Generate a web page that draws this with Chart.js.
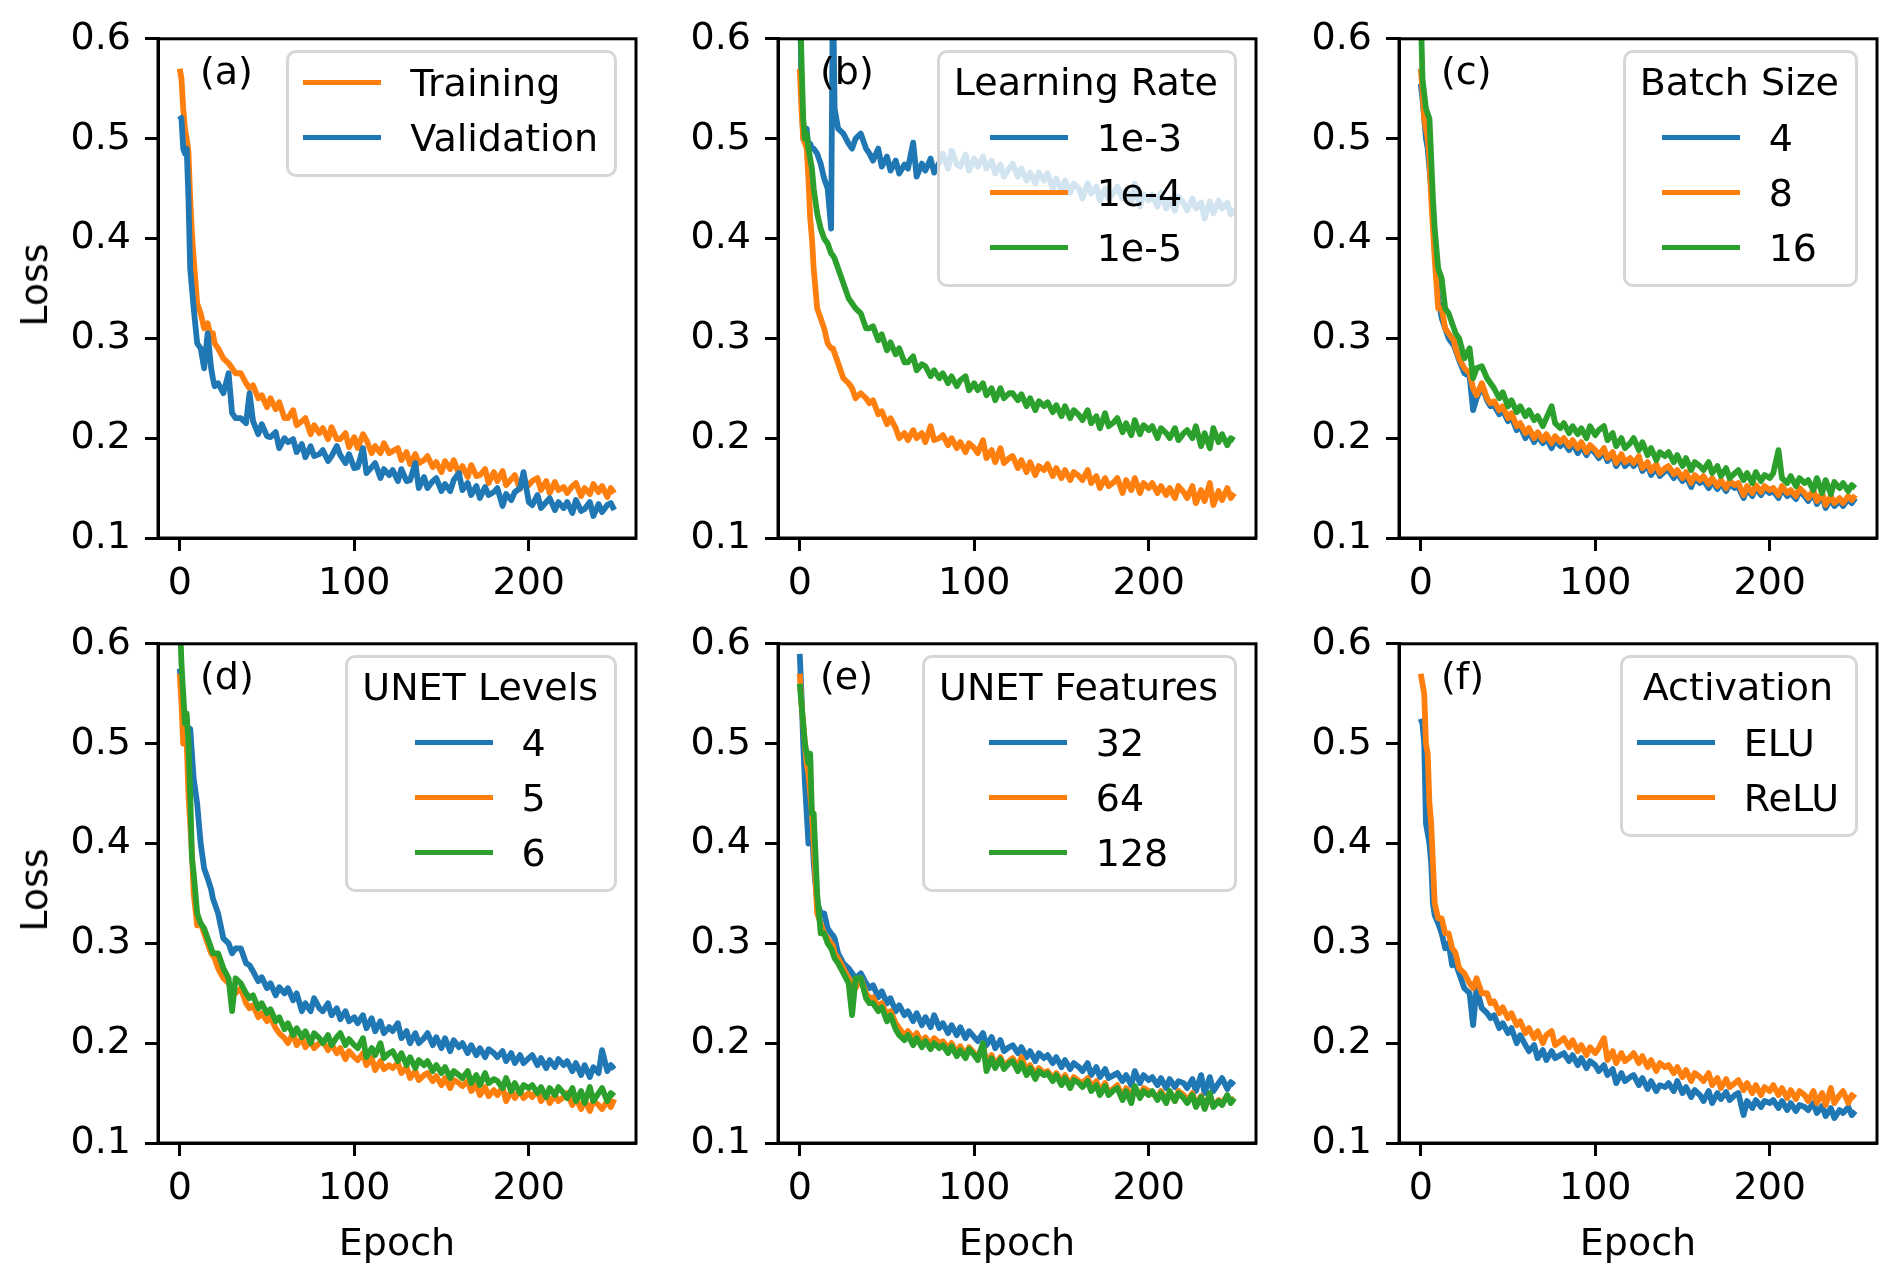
<!DOCTYPE html>
<html>
<head>
<meta charset="utf-8">
<script src="https://cdn.jsdelivr.net/npm/chart.js@4.4.1/dist/chart.umd.min.js"></script>
<style>
  body { margin: 0; background: #fff; }
  #fig { position: relative; width: 1892px; height: 1279px; overflow: hidden;
         font-family: "DejaVu Sans", sans-serif; color: #000; }
  #fig canvas { position: absolute; }
  .legend { position: absolute; box-sizing: border-box; display: flex; flex-direction: column; align-items: center;
            border: 3px solid rgba(204,204,204,0.8); border-radius: 10px; background: rgba(255,255,255,0.8);
            padding: 2px 16px 9px 14px; font-size: 38px; }
  .legend .title { height: 55px; line-height: 55px; white-space: nowrap; }
  .legend .entries { display: flex; flex-direction: column; }
  .legend .row { height: 55px; display: flex; align-items: center; white-space: nowrap; }
  .legend .row i { display: block; width: 78px; height: 5.6px; margin-right: 29px; }
  .tag { position: absolute; font-size: 38px; line-height: 38px; }
  .axlab { position: absolute; font-size: 38px; line-height: 44px; white-space: nowrap; }
</style>
</head>
<body>
<div id="fig"></div>
<script>
// --- data (loss per epoch) ---
const epochs = [0, 1, 2, 3, 4, 5, 6, 7, 8,
  10, 12, 14, 16, 18, 19, 20, 22,
  25, 28, 30, 32, 35, 38, 40,
  42, 45, 47, 50, 52, 55, 57, 60,
  62, 65, 67, 70, 72, 75, 77, 80,
  82, 85, 87, 90, 92, 95, 97, 100,
  102, 105, 107, 110, 112, 115, 117, 120,
  122, 125, 127, 130, 132, 135, 137, 140,
  142, 145, 147, 150, 152, 155, 157, 160,
  162, 165, 167, 170, 172, 175, 177, 180,
  182, 185, 187, 190, 192, 195, 197, 200,
  202, 205, 207, 210, 212, 215, 217, 220,
  222, 225, 227, 230, 232, 235, 237, 240,
  242, 245, 247, 249];

const xTicks = [0, 100, 200];
const yTicks = [0.1, 0.2, 0.3, 0.4, 0.5, 0.6];

// (a)
const trainA = [0.57, 0.56, 0.53, 0.51, 0.50, 0.487, 0.44, 0.405, 0.38,
  0.335, 0.325, 0.31, 0.315, 0.30, 0.305, 0.295, 0.29,
  0.28, 0.275, 0.27, 0.265, 0.265, 0.255, 0.25,
  0.253, 0.240, 0.243, 0.231, 0.240, 0.229, 0.236, 0.220,
  0.220, 0.228, 0.213, 0.217, 0.220, 0.204, 0.213, 0.205,
  0.210, 0.199, 0.211, 0.199, 0.199, 0.205, 0.191, 0.201,
  0.190, 0.204, 0.198, 0.185, 0.192, 0.185, 0.195, 0.185,
  0.187, 0.190, 0.178, 0.186, 0.174, 0.184, 0.175, 0.178,
  0.182, 0.171, 0.176, 0.166, 0.177, 0.169, 0.178, 0.164,
  0.172, 0.161, 0.173, 0.162, 0.163, 0.169, 0.155, 0.166,
  0.157, 0.167, 0.153, 0.159, 0.163, 0.149, 0.159, 0.153,
  0.157, 0.160, 0.148, 0.157, 0.145, 0.156, 0.148, 0.151,
  0.145, 0.152, 0.155, 0.142, 0.150, 0.144, 0.154, 0.146,
  0.152, 0.141, 0.150, 0.145];
const validA = [0.523, 0.52, 0.49, 0.485, 0.49, 0.44, 0.37, 0.35, 0.33,
  0.295, 0.29, 0.27, 0.305, 0.27, 0.26, 0.252, 0.255,
  0.245, 0.265, 0.225, 0.22, 0.22, 0.215, 0.245,
  0.217, 0.204, 0.214, 0.202, 0.201, 0.206, 0.190, 0.200,
  0.196, 0.199, 0.186, 0.194, 0.181, 0.192, 0.182, 0.184,
  0.188, 0.177, 0.182, 0.192, 0.183, 0.175, 0.184, 0.170,
  0.171, 0.190, 0.165, 0.171, 0.175, 0.160, 0.169, 0.163,
  0.168, 0.157, 0.169, 0.157, 0.158, 0.175, 0.150, 0.161,
  0.150, 0.157, 0.160, 0.147, 0.154, 0.147, 0.158, 0.165,
  0.148, 0.155, 0.143, 0.152, 0.140, 0.151, 0.143, 0.146,
  0.150, 0.132, 0.144, 0.138, 0.146, 0.150, 0.166, 0.136,
  0.133, 0.143, 0.130, 0.136, 0.140, 0.128, 0.136, 0.130,
  0.136, 0.125, 0.138, 0.127, 0.129, 0.136, 0.122, 0.134,
  0.126, 0.133, 0.135, 0.128];

// (b) learning rate
const lr1e3 = [0.66, 0.55, 0.50, 0.505, 0.51, 0.49, 0.495, 0.49, 0.49,
  0.485, 0.475, 0.46, 0.45, 0.41, 0.66, 0.53, 0.51,
  0.505, 0.495, 0.49, 0.5, 0.505, 0.49, 0.485,
  0.478, 0.49, 0.472, 0.482, 0.468, 0.478, 0.465, 0.474,
  0.47, 0.496, 0.462, 0.475, 0.468, 0.48, 0.466, 0.476,
  0.485, 0.47, 0.488, 0.474, 0.472, 0.484, 0.468, 0.48,
  0.472, 0.482, 0.47, 0.478, 0.465, 0.474, 0.462, 0.47,
  0.475, 0.462, 0.47, 0.458, 0.466, 0.455, 0.466, 0.458,
  0.465, 0.45, 0.46, 0.448, 0.458, 0.446, 0.455, 0.45,
  0.44, 0.455, 0.445, 0.452, 0.438, 0.45, 0.44, 0.446,
  0.452, 0.44, 0.448, 0.435, 0.455, 0.432, 0.444, 0.438,
  0.444, 0.432, 0.446, 0.43, 0.44, 0.428, 0.442, 0.435,
  0.428, 0.44, 0.43, 0.436, 0.42, 0.437, 0.425, 0.438,
  0.43, 0.436, 0.424, 0.43];
const lr1e4 = [0.57, 0.53, 0.50, 0.495, 0.49, 0.46, 0.42, 0.40, 0.37,
  0.33, 0.32, 0.31, 0.295, 0.29, 0.29, 0.285, 0.275,
  0.26, 0.255, 0.25, 0.24, 0.245, 0.24, 0.235,
  0.238, 0.224, 0.227, 0.214, 0.22, 0.21, 0.2, 0.205,
  0.198, 0.208, 0.2, 0.205, 0.196, 0.212, 0.198, 0.2,
  0.203, 0.193, 0.2, 0.19, 0.196, 0.186, 0.195, 0.19,
  0.185, 0.198, 0.18, 0.188, 0.176, 0.19, 0.175, 0.18,
  0.182, 0.17, 0.178, 0.166, 0.176, 0.163, 0.172, 0.168,
  0.174, 0.162, 0.17, 0.16, 0.168, 0.158, 0.166, 0.162,
  0.158, 0.168, 0.155, 0.162, 0.15, 0.16, 0.152, 0.156,
  0.16, 0.145, 0.158, 0.148, 0.16, 0.145, 0.155, 0.15,
  0.155, 0.145, 0.152, 0.143, 0.15, 0.14, 0.152, 0.146,
  0.14, 0.152, 0.135, 0.148, 0.137, 0.155, 0.133, 0.147,
  0.138, 0.15, 0.14, 0.145];
const lr1e5 = [0.66, 0.58, 0.52, 0.50, 0.505, 0.49, 0.48, 0.47, 0.45,
  0.425, 0.41, 0.40, 0.395, 0.385, 0.383, 0.38, 0.37,
  0.355, 0.34, 0.335, 0.33, 0.325, 0.31, 0.31,
  0.312, 0.298, 0.304, 0.288, 0.296, 0.284, 0.29, 0.276,
  0.276, 0.282, 0.268, 0.274, 0.272, 0.262, 0.268, 0.26,
  0.265, 0.255, 0.262, 0.252, 0.258, 0.262, 0.248, 0.255,
  0.248, 0.255, 0.243, 0.25, 0.238, 0.25, 0.24, 0.245,
  0.245, 0.238, 0.244, 0.232, 0.24, 0.228, 0.237, 0.232,
  0.236, 0.226, 0.233, 0.222, 0.232, 0.22, 0.228, 0.223,
  0.218, 0.228, 0.215, 0.222, 0.21, 0.225, 0.212, 0.216,
  0.22, 0.206, 0.215, 0.203, 0.218, 0.204, 0.213, 0.208,
  0.212, 0.2, 0.21, 0.205, 0.2, 0.21, 0.198, 0.205,
  0.208, 0.2, 0.212, 0.192, 0.205, 0.19, 0.21, 0.196,
  0.204, 0.193, 0.2, 0.198];

// (c) batch size
const bs4 = [0.555, 0.54, 0.52, 0.50, 0.49, 0.47, 0.45, 0.43, 0.39,
  0.34, 0.32, 0.31, 0.30, 0.295, 0.293, 0.288, 0.278,
  0.265, 0.262, 0.228, 0.24, 0.252, 0.238, 0.232,
  0.233, 0.224, 0.228, 0.217, 0.221, 0.208, 0.212, 0.2,
  0.207, 0.196, 0.202, 0.195, 0.2, 0.19, 0.198, 0.192,
  0.196, 0.188, 0.195, 0.185, 0.192, 0.183, 0.19, 0.185,
  0.18, 0.186, 0.177, 0.183, 0.172, 0.18, 0.172, 0.177,
  0.172, 0.178, 0.167, 0.173, 0.163, 0.17, 0.162, 0.167,
  0.168, 0.16, 0.165, 0.157, 0.162, 0.151, 0.16, 0.155,
  0.158, 0.15, 0.157, 0.149, 0.155, 0.147, 0.154, 0.15,
  0.151, 0.14, 0.149, 0.142, 0.15, 0.143, 0.149, 0.145,
  0.147, 0.14, 0.149, 0.142, 0.145, 0.139, 0.147, 0.142,
  0.137, 0.145, 0.134, 0.142, 0.13, 0.139, 0.132, 0.137,
  0.132, 0.139, 0.135, 0.14];
const bs8 = [0.57, 0.55, 0.52, 0.51, 0.50, 0.48, 0.44, 0.41, 0.38,
  0.33, 0.33, 0.31, 0.305, 0.30, 0.298, 0.29, 0.28,
  0.27, 0.265, 0.25, 0.243, 0.255, 0.24, 0.235,
  0.237, 0.228, 0.232, 0.22, 0.225, 0.212, 0.215, 0.205,
  0.21, 0.2, 0.206, 0.198, 0.204, 0.195, 0.202, 0.196,
  0.2, 0.192, 0.198, 0.19, 0.196, 0.186, 0.193, 0.188,
  0.183, 0.19, 0.18, 0.186, 0.175, 0.184, 0.176, 0.18,
  0.175, 0.182, 0.17, 0.176, 0.167, 0.174, 0.165, 0.17,
  0.172, 0.164, 0.168, 0.16, 0.166, 0.155, 0.163, 0.158,
  0.162, 0.154, 0.16, 0.152, 0.158, 0.15, 0.157, 0.153,
  0.155, 0.143, 0.152, 0.145, 0.153, 0.146, 0.152, 0.148,
  0.15, 0.143, 0.152, 0.145, 0.148, 0.142, 0.15, 0.145,
  0.14, 0.148, 0.137, 0.145, 0.133, 0.142, 0.135, 0.14,
  0.135, 0.142, 0.138, 0.143];
const bs16 = [0.63, 0.56, 0.545, 0.53, 0.525, 0.52, 0.48, 0.44, 0.41,
  0.37, 0.36, 0.33, 0.325, 0.315, 0.31, 0.305, 0.30,
  0.28, 0.29, 0.26, 0.27, 0.272, 0.26, 0.255,
  0.25, 0.24, 0.246, 0.232, 0.238, 0.226, 0.232, 0.222,
  0.228, 0.218, 0.222, 0.212, 0.22, 0.232, 0.215, 0.21,
  0.215, 0.205, 0.212, 0.204, 0.21, 0.2, 0.212, 0.203,
  0.208, 0.212, 0.198, 0.205, 0.192, 0.2, 0.19, 0.195,
  0.2, 0.188, 0.196, 0.183, 0.19, 0.178, 0.186, 0.182,
  0.186, 0.176, 0.183, 0.172, 0.18, 0.168, 0.176, 0.172,
  0.168, 0.176, 0.165, 0.172, 0.162, 0.17, 0.16, 0.165,
  0.168, 0.158, 0.165, 0.155, 0.166, 0.157, 0.163, 0.16,
  0.165, 0.188, 0.16, 0.155, 0.162, 0.152, 0.16, 0.155,
  0.158, 0.148, 0.16, 0.145, 0.158, 0.144, 0.156, 0.15,
  0.155, 0.147, 0.153, 0.15];

// (d) unet levels
const lv4 = [0.575, 0.56, 0.54, 0.52, 0.515, 0.51, 0.515, 0.49, 0.465,
  0.44, 0.40, 0.375, 0.365, 0.354, 0.345, 0.34, 0.33,
  0.305, 0.30, 0.29, 0.295, 0.295, 0.28, 0.278,
  0.272, 0.262, 0.266, 0.255, 0.26, 0.248, 0.256, 0.25,
  0.255, 0.243, 0.25, 0.232, 0.24, 0.232, 0.245, 0.235,
  0.232, 0.24, 0.228, 0.235, 0.224, 0.232, 0.222, 0.226,
  0.22, 0.228, 0.215, 0.225, 0.212, 0.222, 0.21, 0.216,
  0.212, 0.22, 0.205, 0.212, 0.2, 0.21, 0.2, 0.205,
  0.21, 0.198, 0.206, 0.195, 0.205, 0.192, 0.203, 0.196,
  0.2, 0.19, 0.198, 0.188, 0.195, 0.186, 0.194, 0.19,
  0.186, 0.192, 0.182, 0.19, 0.18, 0.188, 0.18, 0.185,
  0.188, 0.178, 0.185, 0.175, 0.183, 0.176, 0.184, 0.178,
  0.182, 0.172, 0.18, 0.168, 0.178, 0.166, 0.176, 0.17,
  0.193, 0.172, 0.178, 0.174];
const lv5 = [0.57, 0.54, 0.50, 0.50, 0.50, 0.45, 0.42, 0.39, 0.35,
  0.318, 0.32, 0.31, 0.30, 0.29, 0.288, 0.285, 0.275,
  0.265, 0.26, 0.255, 0.25, 0.255, 0.24, 0.235,
  0.238, 0.226, 0.23, 0.222, 0.226, 0.215, 0.21, 0.205,
  0.2, 0.21, 0.198, 0.205, 0.196, 0.202, 0.195, 0.2,
  0.202, 0.193, 0.199, 0.19, 0.195, 0.184, 0.192, 0.186,
  0.183, 0.19, 0.178, 0.185, 0.173, 0.182, 0.174, 0.178,
  0.175, 0.18, 0.17, 0.176, 0.165, 0.172, 0.163, 0.168,
  0.17, 0.162, 0.167, 0.158, 0.165, 0.155, 0.163, 0.16,
  0.157, 0.162, 0.152, 0.158, 0.148, 0.156, 0.147, 0.153,
  0.148, 0.156, 0.142, 0.152, 0.145, 0.153, 0.145, 0.15,
  0.146, 0.153, 0.142, 0.15, 0.14, 0.148, 0.142, 0.146,
  0.15, 0.138, 0.145, 0.134, 0.143, 0.132, 0.142, 0.138,
  0.134, 0.142, 0.136, 0.144];
const lv6 = [0.63, 0.58, 0.55, 0.52, 0.53, 0.50, 0.45, 0.385, 0.37,
  0.33, 0.32, 0.315, 0.305, 0.295, 0.29, 0.29, 0.29,
  0.275, 0.265, 0.232, 0.265, 0.26, 0.25, 0.245,
  0.248, 0.235, 0.24, 0.23, 0.234, 0.222, 0.226, 0.214,
  0.22, 0.208, 0.215, 0.206, 0.212, 0.2, 0.21, 0.205,
  0.2, 0.208, 0.198, 0.206, 0.21, 0.198, 0.204, 0.198,
  0.195, 0.205, 0.186, 0.195, 0.188, 0.2, 0.185, 0.19,
  0.192, 0.182, 0.19, 0.178, 0.186, 0.175, 0.183, 0.178,
  0.182, 0.172, 0.178, 0.17, 0.176, 0.165, 0.172, 0.168,
  0.165, 0.172, 0.16, 0.168, 0.158, 0.17, 0.16, 0.164,
  0.162, 0.155, 0.165, 0.152, 0.16, 0.15, 0.158, 0.155,
  0.158, 0.15, 0.156, 0.146, 0.155, 0.148, 0.156, 0.15,
  0.145, 0.155, 0.142, 0.152, 0.14, 0.156, 0.142, 0.15,
  0.155, 0.142, 0.15, 0.147];

// (e) unet features
const ft32 = [0.59, 0.55, 0.50, 0.46, 0.43, 0.40, 0.45, 0.42, 0.38,
  0.341, 0.33, 0.33, 0.315, 0.31, 0.308, 0.305, 0.29,
  0.28, 0.275, 0.27, 0.265, 0.27, 0.26, 0.255,
  0.258, 0.246, 0.252, 0.24, 0.245, 0.232, 0.238, 0.228,
  0.232, 0.222, 0.23, 0.218, 0.226, 0.216, 0.228, 0.215,
  0.22, 0.21, 0.218, 0.208, 0.216, 0.205, 0.212, 0.206,
  0.202, 0.21, 0.198, 0.206, 0.195, 0.203, 0.192, 0.196,
  0.198, 0.19, 0.196, 0.186, 0.192, 0.182, 0.19, 0.185,
  0.188, 0.18, 0.186, 0.176, 0.183, 0.174, 0.18, 0.176,
  0.172, 0.18, 0.168, 0.176, 0.166, 0.174, 0.165, 0.168,
  0.17, 0.162, 0.168, 0.158, 0.172, 0.16, 0.168, 0.163,
  0.166, 0.158, 0.165, 0.155, 0.164, 0.156, 0.162, 0.16,
  0.155, 0.164, 0.152, 0.168, 0.15, 0.166, 0.152, 0.16,
  0.165, 0.154, 0.161, 0.158];
const ft64 = [0.57, 0.54, 0.52, 0.50, 0.48, 0.47, 0.45, 0.43, 0.40,
  0.33, 0.32, 0.31, 0.305, 0.30, 0.298, 0.29, 0.285,
  0.275, 0.265, 0.26, 0.255, 0.265, 0.25, 0.245,
  0.246, 0.236, 0.24, 0.228, 0.232, 0.22, 0.215, 0.208,
  0.212, 0.205, 0.21, 0.2, 0.206, 0.198, 0.205, 0.2,
  0.202, 0.195, 0.2, 0.19, 0.197, 0.188, 0.196, 0.19,
  0.186, 0.198, 0.18, 0.188, 0.178, 0.186, 0.177, 0.182,
  0.185, 0.176, 0.186, 0.172, 0.178, 0.168, 0.175, 0.17,
  0.172, 0.165, 0.17, 0.162, 0.168, 0.158, 0.166, 0.162,
  0.16, 0.165, 0.156, 0.162, 0.152, 0.16, 0.15, 0.155,
  0.158, 0.146, 0.155, 0.148, 0.156, 0.147, 0.155, 0.152,
  0.15, 0.145, 0.152, 0.143, 0.15, 0.142, 0.152, 0.148,
  0.142, 0.15, 0.138, 0.147, 0.135, 0.146, 0.137, 0.143,
  0.14, 0.147, 0.142, 0.145];
const ft128 = [0.56, 0.54, 0.52, 0.50, 0.49, 0.48, 0.49, 0.43, 0.43,
  0.35, 0.31, 0.31, 0.30, 0.295, 0.29, 0.285, 0.28,
  0.27, 0.26, 0.228, 0.265, 0.265, 0.245, 0.24,
  0.24, 0.232, 0.236, 0.222, 0.228, 0.214, 0.208, 0.203,
  0.208, 0.198, 0.205, 0.196, 0.202, 0.194, 0.2, 0.195,
  0.198, 0.19, 0.197, 0.187, 0.193, 0.185, 0.194, 0.188,
  0.183, 0.2, 0.172, 0.185, 0.175, 0.184, 0.174, 0.18,
  0.182, 0.172, 0.18, 0.168, 0.175, 0.164, 0.172, 0.168,
  0.17, 0.162, 0.168, 0.158, 0.165, 0.155, 0.163, 0.16,
  0.156, 0.162, 0.152, 0.158, 0.148, 0.157, 0.148, 0.153,
  0.155, 0.143, 0.152, 0.14, 0.157, 0.145, 0.152, 0.148,
  0.152, 0.143, 0.15, 0.14, 0.152, 0.142, 0.15, 0.145,
  0.14, 0.148, 0.136, 0.146, 0.134, 0.15, 0.136, 0.142,
  0.138, 0.148, 0.14, 0.145];

// (f) activation
const actElu = [0.525, 0.52, 0.50, 0.42, 0.41, 0.40, 0.38, 0.34, 0.328,
  0.32, 0.31, 0.295, 0.30, 0.278, 0.285, 0.28, 0.27,
  0.255, 0.25, 0.218, 0.255, 0.235, 0.23, 0.225,
  0.228, 0.215, 0.22, 0.21, 0.215, 0.2, 0.208, 0.198,
  0.192, 0.198, 0.185, 0.193, 0.183, 0.192, 0.185, 0.188,
  0.19, 0.182, 0.188, 0.178, 0.185, 0.175, 0.182, 0.178,
  0.172, 0.178, 0.168, 0.174, 0.16, 0.17, 0.162, 0.166,
  0.168, 0.158, 0.165, 0.154, 0.162, 0.152, 0.158, 0.156,
  0.16, 0.152, 0.162, 0.15, 0.156, 0.146, 0.153, 0.148,
  0.142, 0.152, 0.14, 0.15, 0.144, 0.151, 0.143, 0.148,
  0.15, 0.128, 0.142, 0.135, 0.143, 0.136, 0.142, 0.14,
  0.143, 0.135, 0.142, 0.133, 0.14, 0.132, 0.138, 0.136,
  0.133, 0.14, 0.13, 0.137, 0.127, 0.135, 0.125, 0.133,
  0.13, 0.136, 0.128, 0.132];
const actRelu = [0.57, 0.56, 0.55, 0.50, 0.49, 0.44, 0.42, 0.38, 0.34,
  0.325, 0.325, 0.31, 0.31, 0.295, 0.293, 0.29, 0.275,
  0.27, 0.26, 0.255, 0.265, 0.25, 0.25, 0.24,
  0.242, 0.23, 0.236, 0.225, 0.23, 0.218, 0.222, 0.21,
  0.215, 0.205, 0.212, 0.2, 0.208, 0.212, 0.198, 0.202,
  0.205, 0.196, 0.203, 0.192, 0.198, 0.188, 0.196, 0.19,
  0.195, 0.205, 0.183, 0.192, 0.18, 0.19, 0.182, 0.186,
  0.19, 0.18, 0.187, 0.176, 0.183, 0.172, 0.18, 0.176,
  0.178, 0.17, 0.176, 0.166, 0.173, 0.162, 0.17, 0.166,
  0.162, 0.17, 0.158, 0.165, 0.155, 0.164, 0.156, 0.16,
  0.163, 0.153, 0.16, 0.15, 0.158, 0.148, 0.156, 0.152,
  0.158, 0.148, 0.155, 0.145, 0.153, 0.144, 0.152, 0.148,
  0.142, 0.152, 0.14, 0.15, 0.138, 0.155, 0.14, 0.148,
  0.152, 0.14, 0.148, 0.145];

const BLUE = '#1f77b4', ORANGE = '#ff7f0e', GREEN = '#2ca02c';

const panels = [
  { tag: '(a)', title: null, labels: ['Training', 'Validation'], series: [trainA, validA], colors: [ORANGE, BLUE] },
  { tag: '(b)', title: 'Learning Rate', labels: ['1e-3', '1e-4', '1e-5'], series: [lr1e3, lr1e4, lr1e5], colors: [BLUE, ORANGE, GREEN] },
  { tag: '(c)', title: 'Batch Size', labels: ['4', '8', '16'], series: [bs4, bs8, bs16], colors: [BLUE, ORANGE, GREEN] },
  { tag: '(d)', title: 'UNET Levels', labels: ['4', '5', '6'], series: [lv4, lv5, lv6], colors: [BLUE, ORANGE, GREEN] },
  { tag: '(e)', title: 'UNET Features', labels: ['32', '64', '128'], series: [ft32, ft64, ft128], colors: [BLUE, ORANGE, GREEN] },
  { tag: '(f)', title: 'Activation', labels: ['ELU', 'ReLU'], series: [actElu, actRelu], colors: [BLUE, ORANGE] }
];

// --- layout (pixels) ---
const FIG_W = 1892;
const colLeft = [158, 778, 1399];
const rowTop = [32, 637];
const AW = 478, AH = 506;
const YW = 150, PT = 30, PR = 14, XH = 80;

const fig = document.getElementById('fig');
const tickFont = { family: 'DejaVu Sans', size: 38 };

// matplotlib style full box around the axes
const framePlugin = {
  id: 'frame',
  afterDraw(chart) {
    const { ctx, chartArea: a } = chart;
    ctx.save();
    ctx.strokeStyle = '#000';
    ctx.lineWidth = 3;
    ctx.strokeRect(a.left, a.top, a.right - a.left, a.bottom - a.top);
    ctx.restore();
  }
};

const addText = (cls, text, css) => {
  const el = document.createElement('div');
  el.className = cls;
  el.textContent = text;
  Object.assign(el.style, css);
  fig.appendChild(el);
  return el;
};

panels.forEach((p, i) => {
  const col = i % 3, row = Math.floor(i / 3);
  const AL = colLeft[col], AT = rowTop[row];

  p.series.forEach((s, j) => {
    if (s.length !== epochs.length) console.warn(p.tag, p.labels[j], s.length);
  });

  const canvas = document.createElement('canvas');
  canvas.width = YW + AW + PR;
  canvas.height = PT + AH + XH;
  canvas.style.left = (AL - YW) + 'px';
  canvas.style.top = (AT - PT) + 'px';
  fig.appendChild(canvas);

  const n = p.series.length;
  new Chart(canvas, {
    type: 'line',
    data: {
      datasets: p.series.map((vals, j) => ({
        label: p.labels[j],
        data: epochs.map((e, k) => ({ x: e, y: vals[k] })),
        borderColor: p.colors[j],
        borderWidth: 5.8,
        borderJoinStyle: 'round',
        pointRadius: 0,
        tension: 0,
        clip: 0,
        order: n - j // later series drawn on top, like matplotlib
      }))
    },
    options: {
      responsive: false,
      animation: false,
      devicePixelRatio: 1,
      layout: { padding: { top: PT, right: PR, left: 0, bottom: 0 } },
      plugins: { legend: { display: false }, tooltip: { enabled: false } },
      scales: {
        x: {
          type: 'linear', min: -12.45, max: 261.45,
          afterBuildTicks: s => { s.ticks = xTicks.map(v => ({ value: v })); },
          afterFit: s => { s.height = XH; },
          ticks: { font: tickFont, color: '#000', padding: 10, maxRotation: 0, autoSkip: false },
          grid: { drawOnChartArea: false, drawTicks: true, tickLength: 13, tickWidth: 3, tickColor: '#000' },
          border: { display: true, color: '#000', width: 3 }
        },
        y: {
          type: 'linear', min: 0.1, max: 0.6,
          afterBuildTicks: s => { s.ticks = yTicks.map(v => ({ value: v })); },
          afterFit: s => { s.width = YW; },
          ticks: { font: tickFont, color: '#000', padding: 14, callback: v => v.toFixed(1) },
          grid: { drawOnChartArea: false, drawTicks: true, tickLength: 13, tickWidth: 3, tickColor: '#000' },
          border: { display: true, color: '#000', width: 3 }
        }
      }
    },
    plugins: [framePlugin]
  });

  // panel tag
  addText('tag', p.tag, { left: (AL + 42) + 'px', top: (AT + 20) + 'px' });

  // legend
  const lg = document.createElement('div');
  lg.className = 'legend';
  lg.style.right = (FIG_W - (AL + AW) + 19) + 'px';
  lg.style.top = (AT + 18) + 'px';
  if (p.title) {
    const t = document.createElement('div');
    t.className = 'title';
    t.textContent = p.title;
    lg.appendChild(t);
  }
  const entries = document.createElement('div');
  entries.className = 'entries';
  p.labels.forEach((lab, j) => {
    const r = document.createElement('div');
    r.className = 'row';
    const h = document.createElement('i');
    h.style.background = p.colors[j];
    r.appendChild(h);
    r.appendChild(document.createTextNode(lab));
    entries.appendChild(r);
  });
  lg.appendChild(entries);
  fig.appendChild(lg);

  // axis labels
  if (col === 0) {
    addText('axlab', 'Loss', { left: '34px', top: (AT + AH / 2) + 'px', transform: 'translate(-50%,-50%) rotate(-90deg)' });
  }
  if (row === 1) {
    addText('axlab', 'Epoch', { left: (AL + AW / 2) + 'px', top: '1242px', transform: 'translate(-50%,-50%)' });
  }
});
</script>
</body>
</html>
